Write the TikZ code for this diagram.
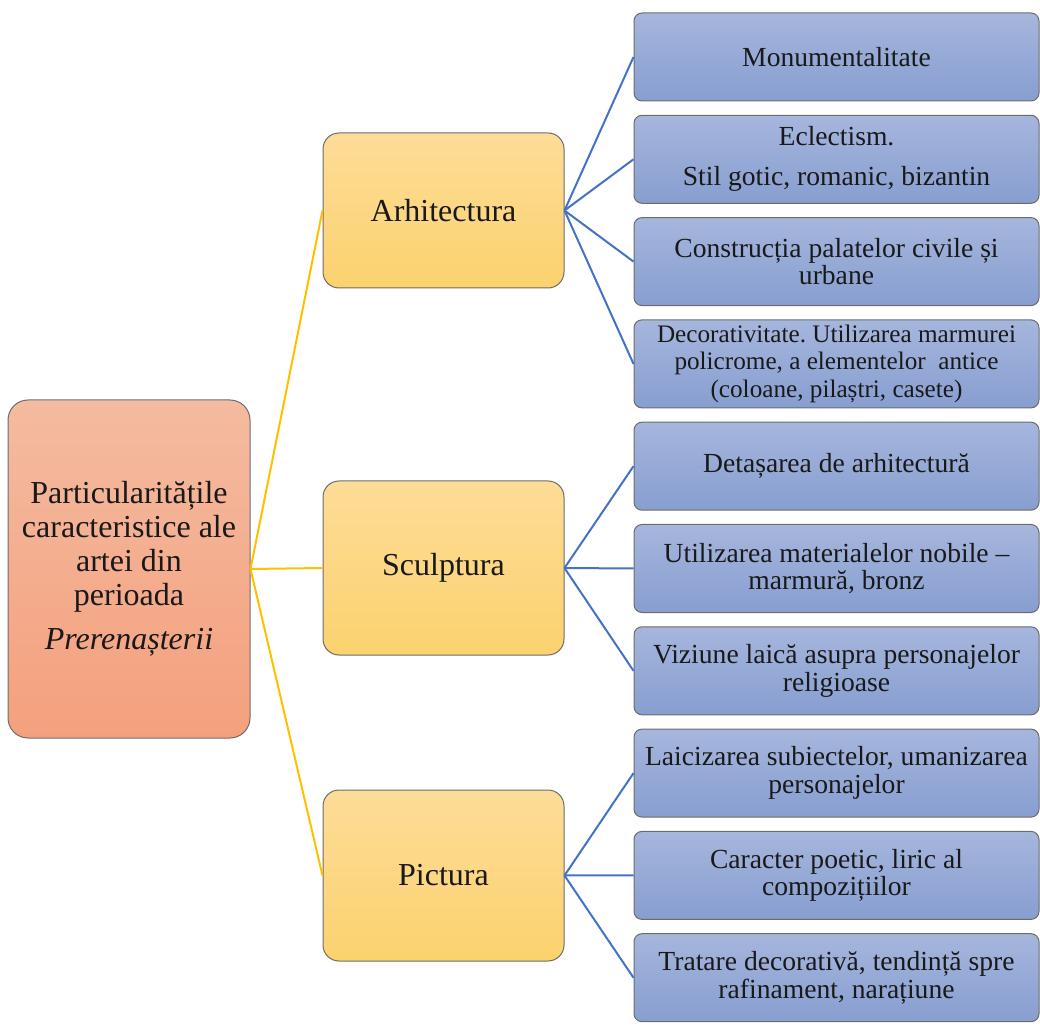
\documentclass[tikz,border=0pt]{standalone}
\usepackage{fontspec}
\setmainfont{Liberation Serif}
\frenchspacing
\definecolor{rootTop}{HTML}{F4BBA0}
\definecolor{rootBot}{HTML}{F4A07D}
\definecolor{midTop}{HTML}{FDDC98}
\definecolor{midBot}{HTML}{FCD26E}
\definecolor{leafTop}{HTML}{A6B6DD}
\definecolor{leafBot}{HTML}{879ED0}
\definecolor{yelLine}{HTML}{FFC000}
\definecolor{bluLine}{HTML}{4472C4}
\begin{document}
\begin{tikzpicture}[x=0.5pt, y=-0.5pt,
    box/.style={draw=gray!85!black, line width=0.5pt, align=center, inner sep=2pt, text=black!90},
    rootbox/.style={box, rounded corners=10pt, top color=rootTop, bottom color=rootBot,
        minimum width=121pt, minimum height=169pt, font=\fontsize{16}{17}\selectfont},
    midbox/.style={box, rounded corners=8pt, top color=midTop, bottom color=midBot,
        minimum width=120.5pt, font=\fontsize{16}{17}\selectfont},
    leaf/.style={box, rounded corners=4pt, top color=leafTop, bottom color=leafBot,
        minimum width=202.5pt, minimum height=44pt, font=\fontsize{13.8}{13.9}\selectfont},
    leafnorm/.style={},
    leafsmall/.style={font=\fontsize{12.6}{13.8}\selectfont},
    yline/.style={yelLine, line width=1pt},
    bline/.style={bluLine, line width=1pt}]
    \useasboundingbox (0,0) rectangle (1040,1027);
    % root and the three branches
    \node[rootbox] (root) at (129,569) {Particularitățile\\caracteristice ale\\artei din\\perioada\\[5pt]\textit{Prerenașterii}};
    \node[midbox, minimum height=77.5pt] (arh) at (443.5,210.5) {Arhitectura};
    \node[midbox, minimum height=87pt] (scu) at (443.5,568) {Sculptura};
    \node[midbox, minimum height=85.5pt] (pic) at (443.5,875.5) {Pictura};
    \foreach \m in {arh,scu,pic} {
        \draw[yline] (root.east) -- (\m.west);
    }
    % leaves, top to bottom
    \foreach \i/\p/\s/\t in {
        1/arh/leafnorm/{Monumentalitate},
        2/arh/leafnorm/{Eclectism.\\[6pt]Stil gotic, romanic, bizantin},
        3/arh/leafnorm/{Construcția palatelor civile și\\urbane},
        4/arh/leafsmall/{Decorativitate. Utilizarea marmurei\\policrome, a elementelor~ antice\\(coloane, pilaștri, casete)},
        5/scu/leafnorm/{Detașarea de arhitectură},
        6/scu/leafnorm/{Utilizarea materialelor nobile --\\marmură, bronz},
        7/scu/leafnorm/{Viziune laică asupra personajelor\\religioase},
        8/pic/leafnorm/{Laicizarea subiectelor, umanizarea\\personajelor},
        9/pic/leafnorm/{Caracter poetic, liric al\\compozițiilor},
        10/pic/leafnorm/{Tratare decorativă, tendință spre\\rafinament, narațiune}} {
        \node[leaf, \s] (leaf\i) at (836.5,{57+102.3*(\i-1)}) {\t};
        \draw[bline] (\p.east) -- (leaf\i.west);
    }
\end{tikzpicture}
\end{document}
